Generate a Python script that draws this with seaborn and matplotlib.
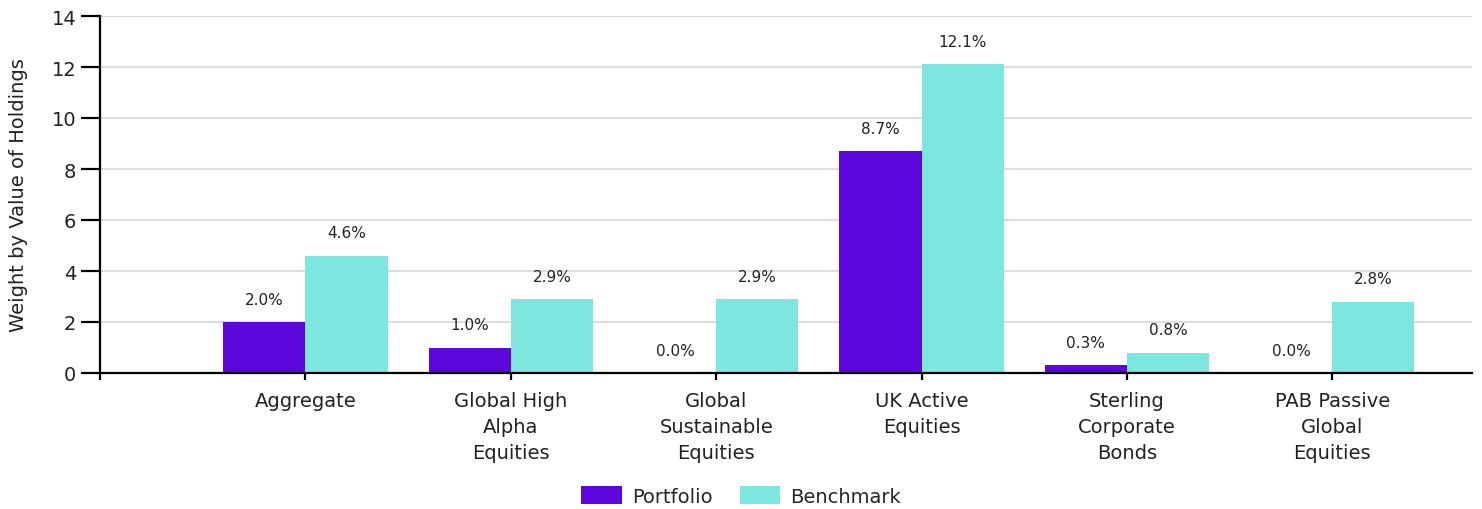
import matplotlib
matplotlib.use("Agg")
import matplotlib.pyplot as plt
import seaborn as sns
import pandas as pd
from matplotlib.patches import Patch

# Fund categories (the leading blank slot sits against the y axis)
categories = ["", "Aggregate", "Global High\nAlpha\nEquities", "Global\nSustainable\nEquities",
              "UK Active\nEquities", "Sterling\nCorporate\nBonds", "PAB Passive\nGlobal\nEquities"]
fund_names = categories[1:]
portfolio = [2.0, 1.0, 0.0, 8.7, 0.3, 0.0]
benchmark = [4.6, 2.9, 2.9, 12.1, 0.8, 2.8]
series_names = ["Portfolio", "Benchmark"]
colors = ["#5c06dd", "#7de6df"]
yticks = [0, 2, 4, 6, 8, 10, 12, 14]

df = pd.DataFrame({
    "fund": fund_names * 2,
    "weight": portfolio + benchmark,
    "series": [series_names[0]] * len(fund_names) + [series_names[1]] * len(fund_names),
})

sns.set_theme(style="white")
plt.rcParams["font.family"] = ["DejaVu Sans"]

fig = plt.figure(figsize=(14.82, 5.10), dpi=100)
ax = fig.add_axes([100 / 1482, 1 - 374 / 510, (1472 - 100) / 1482, (374 - 17) / 510])

sns.barplot(data=df, x="fund", y="weight", hue="series", order=categories,
            hue_order=series_names, palette=colors, width=0.8, saturation=1,
            errorbar=None, ax=ax, legend=False, linewidth=0)

# Value labels above each bar
for container in ax.containers:
    ax.bar_label(container, labels=[f"{b.get_height():.1f}%" for b in container],
                 padding=11, fontsize=11, color="#222222")

ax.set_xlim(0, 6.68)
ax.set_ylim(0, 14)
ax.set_yticks(yticks)
ax.set_yticklabels([str(t) for t in yticks], fontsize=14, color="#222222")
ax.set_xticks(range(len(categories)))
ax.set_xticklabels(categories, fontsize=14, color="#222222", linespacing=1.45)
ax.set_xlabel("")
ax.set_ylabel("Weight by Value of Holdings", fontsize=14, color="#222222", labelpad=17)

ax.grid(axis="y", color="#dddddd", linewidth=1.5)
ax.set_axisbelow(True)
for side in ["top", "right"]:
    ax.spines[side].set_visible(False)
for side in ["left", "bottom"]:
    ax.spines[side].set_color("black")
    ax.spines[side].set_linewidth(1.6)
ax.tick_params(axis="y", direction="out", length=14, width=1.6, color="black", pad=3, left=True)
ax.tick_params(axis="x", direction="out", length=5, width=1.6, color="black", pad=8, bottom=True)

handles = [Patch(facecolor=c, edgecolor="none", label=n) for c, n in zip(colors, series_names)]
fig.legend(handles=handles, loc="center", bbox_to_anchor=(0.5, 1 - 497 / 510), ncol=2,
           frameon=False, fontsize=14, handlelength=2.1, handleheight=1.0,
           columnspacing=1.4, handletextpad=0.5)

fig.savefig("out.png", dpi=100, facecolor="white")
